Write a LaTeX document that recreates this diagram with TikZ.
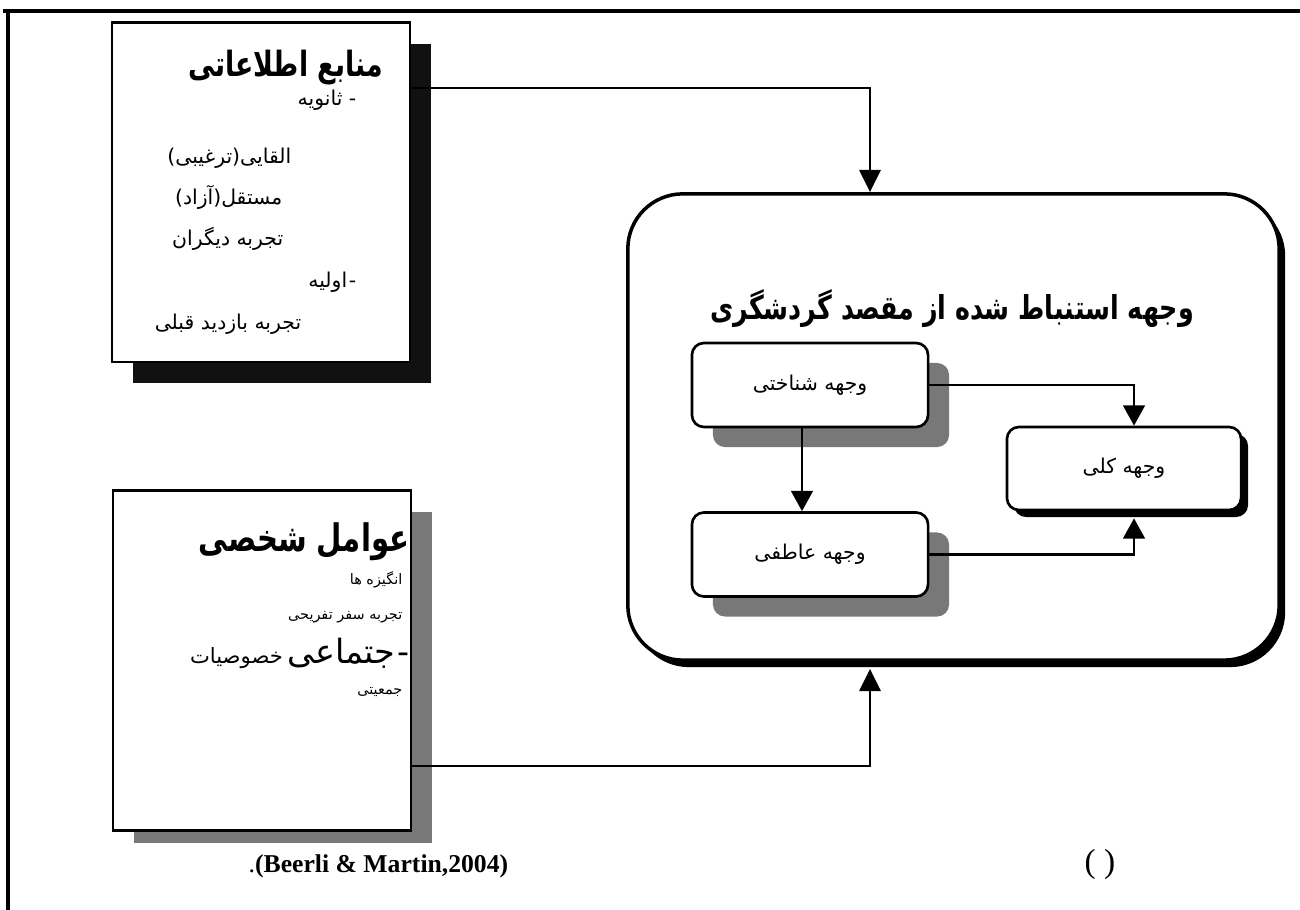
\documentclass[tikz,border=0pt]{standalone}
\usepackage{graphicx}
\usepackage{fontspec}
\setmainfont{Liberation Serif}
\newfontfamily\fa[Script=Arabic]{DejaVu Sans}
\TeXXeTstate=1
\usetikzlibrary{arrows.meta,shadows}
\definecolor{shgray}{HTML}{787878}
\definecolor{shblack}{HTML}{111111}
\newcommand\rl[1]{\beginR #1\endR}
\newcommand\tall[1]{\scalebox{1}[1.3]{\rl{#1}}}
\begin{document}
\begin{tikzpicture}[x=0.01cm,y=-0.01cm,
  frame/.style={line width=0.9pt},
  conn/.style={line width=0.75pt,-{Triangle[width=6pt,length=6.3pt]}},
  iconn/.style={line width=0.75pt,-{Triangle[width=6.2pt,length=5.8pt]}},
  sidebox/.style={draw,line width=0.8pt,fill=white,inner sep=0pt,minimum width=2.98cm,minimum height=3.39cm},
  facet/.style={draw,line width=0.75pt,fill=white,rounded corners=0.12cm,minimum width=2.36cm,minimum height=0.84cm,inner sep=0pt,font=\fa\fontsize{5.8}{8}\selectfont},
  txt/.style={inner sep=0pt,font=\fa\fontsize{5.8}{8}\selectfont},
  smalltxt/.style={inner sep=0pt,font=\fa\fontsize{4.1}{6}\selectfont},
  ttl/.style={inner sep=0pt,font=\fa\bfseries\fontsize{7.6}{9}\selectfont},
  bigttl/.style={inner sep=0pt,font=\fa\bfseries\fontsize{8.3}{10}\selectfont},
  imgttl/.style={inner sep=0pt,font=\fa\bfseries\fontsize{7.2}{9}\selectfont},
]
\useasboundingbox (0,0) rectangle (1300,910);
\draw[frame] (3,11) -- (1300,11);
\draw[frame] (8,11) -- (8,910);

% information sources
\node[sidebox, drop shadow={shadow xshift=0.21cm,shadow yshift=-0.21cm,fill=shblack,opacity=1}] (src) at (261,192.5) {};
\node[ttl,anchor=east] (s0) at (384,68) {\tall{منابع اطلاعاتی}};
\node[txt,anchor=east] (s1) at (357,100) {\rl{- ثانویه}};
\node[txt,anchor=east] (s2) at (292,158) {\rl{القایی(ترغیبی)}};
\node[txt,anchor=east] (s3) at (283,197) {\rl{مستقل(آزاد)}};
\node[txt,anchor=east] (s4) at (284,239) {\rl{تجربه دیگران}};
\node[txt,anchor=east] (s5) at (357,282) {\rl{-\kern0.5pt اولیه}};
\node[txt,anchor=east] (s6) at (302,324) {\rl{تجربه بازدید قبلی}};

% personal factors
\fill[shgray] (134,512) rectangle (432,843);
\node[sidebox] (pf) at (262,660.5) {};
\node[bigttl,anchor=east] (p0) at (410,542) {\tall{عوامل شخصی}};
\node[smalltxt,anchor=east] (p1) at (403,580) {\rl{انگیزه ها}};
\node[smalltxt,anchor=east] (p2) at (403,617) {\rl{تجربه سفر تفریحی}};
\node[smalltxt,anchor=east] (p3) at (410,653) {\rl{{\fontsize{9.5}{11}\selectfont -\kern0.5pt جتماعی} {\fontsize{6}{8}\selectfont خصوصیات}}};
\node[smalltxt,anchor=east] (p4) at (403,692) {\rl{جمعیتی}};

% perceived image
\node[draw,line width=1pt,fill=white,rounded corners=0.55cm,minimum width=6.51cm,minimum height=4.66cm,
  drop shadow={shadow xshift=0.06cm,shadow yshift=-0.07cm,fill=black,opacity=1}] (img) at (953.5,427) {};
\node[imgttl] (imgt) at (952,309) {\tall{وجهه استنباط شده از مقصد گردشگری}};
\node[facet,drop shadow={shadow xshift=0.21cm,shadow yshift=-0.2cm,fill=shgray,opacity=1}] (cog) at (810,385) {\rl{وجهه شناختی}};
\node[facet,drop shadow={shadow xshift=0.21cm,shadow yshift=-0.2cm,fill=shgray,opacity=1}] (aff) at (810,554.5) {\rl{وجهه عاطفی}};
\node[facet,minimum width=2.34cm,minimum height=0.83cm,drop shadow={shadow xshift=0.07cm,shadow yshift=-0.07cm,fill=black,opacity=1}] (ovr) at (1124,468.5) {\rl{وجهه کلی}};
\coordinate (ovrb) at ([yshift=-0.07cm]ovr.south);
\coordinate (imgb) at ([yshift=-0.07cm]img.south);

\draw[iconn] (cog.east) -| (ovr.north -| 1134,0);
\draw[iconn] (aff.east) -| (ovrb -| 1134,0);
\draw[iconn] (cog.south -| 802,0) -- (aff.north -| 802,0);

\draw[conn] (src.east |- 0,88) -| (img.north -| 870,0);
\draw[conn] (pf.east |- 0,766) -| (imgb -| 870,0);

% caption
\node[anchor=west,inner sep=0pt,font=\fontsize{7.3}{9}\selectfont] (cap) at (248,866) {.\textbf{(Beerli \& Martin,2004)}};
\node[inner sep=0pt,font=\fontsize{9.5}{11}\selectfont] (fig) at (1100,864) {(\ )};
\end{tikzpicture}
\end{document}
